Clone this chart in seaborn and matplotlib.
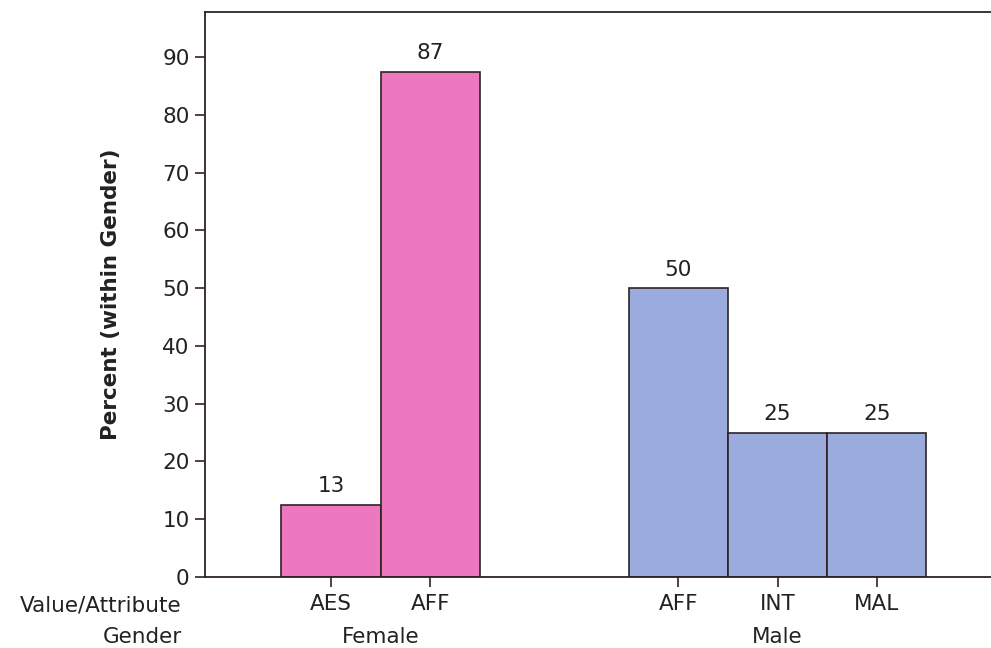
import pandas as pd
import seaborn as sns
from matplotlib import pyplot as plt

# chart data
genders = ['Female', 'Female', 'Male', 'Male', 'Male']
attributes = ['AES', 'AFF', 'AFF', 'INT', 'MAL']
percents = [12.5, 87.5, 50.0, 25.0, 25.0]
bar_labels = ['13', '87', '50', '25', '25']
slots = [0, 1, 3.5, 4.5, 5.5]
y_ticks = [0, 10, 20, 30, 40, 50, 60, 70, 80, 90]

df = pd.DataFrame({'Gender': genders, 'Attribute': attributes,
                   'Percent': percents, 'slot': slots})

sns.set_style('white')
plt.rcParams['font.family'] = ['DejaVu Sans']
ink = '#2e2224'
txt = '#222222'
fs = 15.5

fig = plt.figure(figsize=(9.91, 6.48), dpi=100)
ax = fig.add_axes([205 / 991, 1 - 577 / 648, 1 - 205 / 991 + 0.01, (577 - 12) / 648])

sns.barplot(data=df, x='slot', y='Percent', hue='Gender', native_scale=True,
            palette={'Female': '#ee78bf', 'Male': '#9cabdd'}, width=1.0,
            saturation=1, dodge=False, edgecolor=ink, linewidth=1.2,
            legend=False, ax=ax)

for cont, g in zip(ax.containers, ['Female', 'Male']):
    labs = [bar_labels[i] for i, gg in enumerate(genders) if gg == g]
    ax.bar_label(cont, labels=labs, padding=6, fontsize=fs, color=txt)

ax.set_xlim(-1.27, 6.75)
ax.set_ylim(0, 97.8)
ax.set_yticks(y_ticks)
ax.set_xticks(slots)
ax.set_xticklabels(attributes)
ax.tick_params(axis='both', direction='out', length=7, width=1.2, color=ink,
               labelsize=fs, labelcolor=txt, left=True, bottom=True, pad=4)
ax.tick_params(axis='x', pad=5)
ax.set_xlabel('')
ax.set_ylabel('Percent (within Gender)', fontsize=15.5, fontweight='bold',
              color=txt, labelpad=30)

for side in ['left', 'bottom', 'top']:
    ax.spines[side].set_color(ink)
    ax.spines[side].set_linewidth(1.3)
ax.spines['right'].set_visible(False)

# row labels and group labels below axis
tr = ax.get_xaxis_transform()
ax.text(-0.029, -0.05, 'Value/Attribute', transform=ax.transAxes, ha='right', va='center',
        fontsize=fs, color=txt)
ax.text(-0.029, -0.107, 'Gender', transform=ax.transAxes, ha='right', va='center',
        fontsize=fs, color=txt)
ax.text(0.5, -0.107, 'Female', transform=tr, ha='center', va='center',
        fontsize=fs, color=txt)
ax.text(4.5, -0.107, 'Male', transform=tr, ha='center', va='center',
        fontsize=fs, color=txt)

fig.savefig('out.png', dpi=100)
